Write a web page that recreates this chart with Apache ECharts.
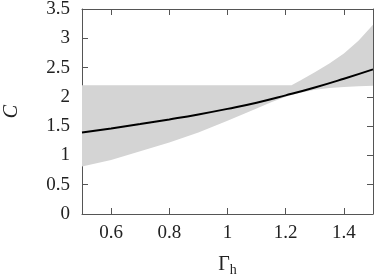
<!DOCTYPE html>
<html>
<head>
<meta charset="utf-8">
<script src="https://cdn.jsdelivr.net/npm/echarts@6/dist/echarts.min.js"></script>
<style>html,body{margin:0;padding:0;background:#fff}#c{width:374px;height:278px}</style>
</head>
<body>
<div id="c"></div>
<script>
var lineX = [0.5, 0.6, 0.7, 0.8, 0.9, 1.0, 1.1, 1.2, 1.3, 1.4, 1.5];
var lineY = [1.39, 1.46, 1.535, 1.615, 1.70, 1.795, 1.90, 2.025, 2.16, 2.31, 2.47];
var bandX = [0.5, 0.6, 0.7, 0.8, 0.9, 1.0, 1.1, 1.15, 1.2, 1.22, 1.25, 1.3, 1.35, 1.4, 1.45, 1.5];
var bandUpper = [2.2, 2.2, 2.2, 2.2, 2.2, 2.2, 2.2, 2.2, 2.2, 2.2, 2.28, 2.42, 2.57, 2.74, 2.96, 3.23];
var bandLower = [0.81, 0.92, 1.07, 1.22, 1.39, 1.59, 1.80, 1.91, 2.00, 2.03, 2.07, 2.12, 2.15, 2.17, 2.18, 2.19];
var xTicks = [0.6, 0.8, 1, 1.2, 1.4];

var font = 'Liberation Serif';
var axisColor = '#555';
var chart = echarts.init(document.getElementById('c'));
var lineData = lineX.map(function (x, i) { return [x, lineY[i]]; });

function fmt(v) { return String(+(+v).toFixed(1)); }

function axisBase(extra) {
  var a = {
    type: 'value',
    axisLine: { show: true, onZero: false, lineStyle: { color: axisColor, width: 1 } },
    splitLine: { show: false }
  };
  for (var k in extra) a[k] = extra[k];
  return a;
}

chart.setOption({
  animation: false,
  grid: { left: 82, right: 1, top: 9, bottom: 64, containLabel: false, outerBoundsMode: 'none' },
  xAxis: [
    axisBase({
      min: 0.5, max: 1.5, position: 'bottom',
      axisLabel: {
        fontFamily: font, fontSize: 19, color: '#222', margin: 10,
        customValues: xTicks, formatter: fmt
      },
      axisTick: { show: true, inside: true, length: 6, lineStyle: { color: axisColor }, customValues: xTicks },
      name: '{g|Γ}{s|h}', nameLocation: 'middle', nameGap: 39,
      nameTextStyle: { rich: { g: { fontFamily: font, fontSize: 20, color: '#222' }, s: { fontFamily: font, fontSize: 14, color: '#222', padding: [10, 0, 0, 0] } } }
    }),
    axisBase({
      min: 0.5, max: 1.5, position: 'top',
      axisLabel: { show: false, customValues: xTicks },
      axisTick: { show: true, inside: true, length: 6, lineStyle: { color: axisColor }, customValues: xTicks }
    })
  ],
  yAxis: [
    axisBase({
      min: 0, max: 3.5, interval: 0.5, position: 'left',
      axisLabel: { fontFamily: font, fontSize: 19, color: '#222', margin: 12, formatter: fmt },
      axisTick: { show: true, inside: true, length: 6, lineStyle: { color: axisColor } },
      name: 'C', nameLocation: 'middle', nameGap: 60, nameRotate: 90,
      nameTextStyle: { fontFamily: font, fontSize: 20, fontStyle: 'italic', color: '#222' }
    }),
    axisBase({
      min: 0, max: 3.5, interval: 0.5, position: 'right',
      axisLabel: { show: false },
      axisTick: { show: true, inside: true, length: 6, lineStyle: { color: axisColor } }
    })
  ],
  series: [
    {
      type: 'custom',
      xAxisIndex: 0, yAxisIndex: 0,
      clip: true,
      data: [0],
      renderItem: function (params, api) {
        var pts = [];
        for (var i = 0; i < bandX.length; i++) pts.push(api.coord([bandX[i], bandUpper[i]]));
        for (var j = bandX.length - 1; j >= 0; j--) pts.push(api.coord([bandX[j], bandLower[j]]));
        return { type: 'polygon', shape: { points: pts }, style: { fill: '#d4d4d4', stroke: null } };
      },
      z: 1
    },
    {
      type: 'line',
      xAxisIndex: 0, yAxisIndex: 0,
      data: lineData,
      smooth: true,
      symbol: 'none',
      lineStyle: { color: '#000', width: 2 },
      z: 3
    }
  ]
});
</script>
</body>
</html>
